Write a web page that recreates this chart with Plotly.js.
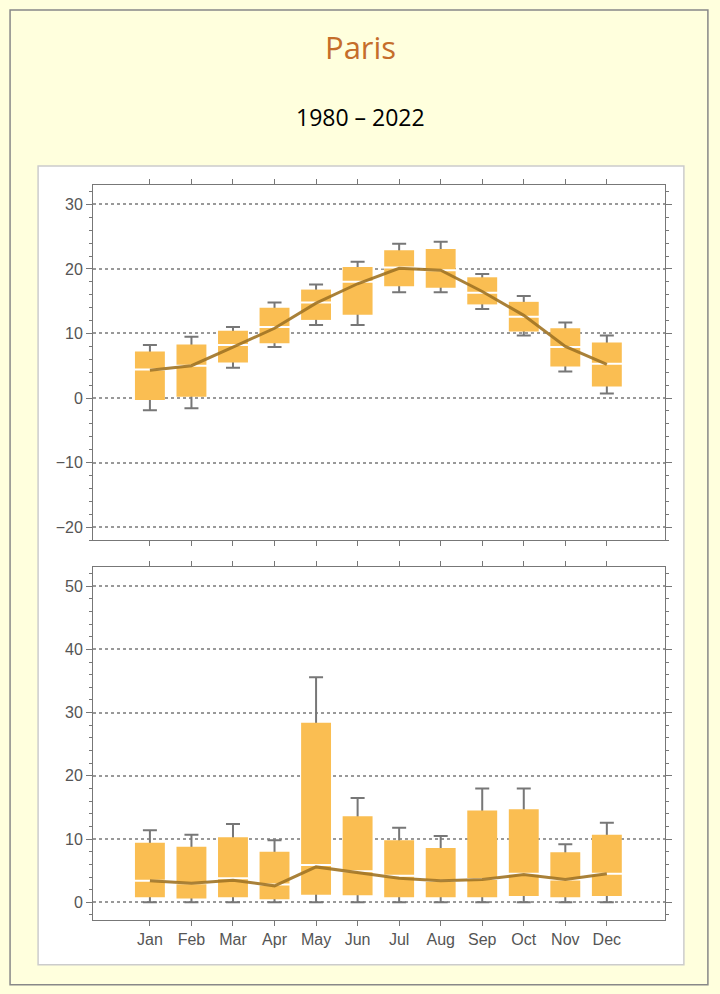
<!DOCTYPE html>
<html>
<head>
<meta charset="utf-8">
<script src="https://cdn.plot.ly/plotly-3.0.1.min.js"></script>
<style>body{margin:0;background:#ffffdd}</style>
</head>
<body>
<div id="chart" style="width:720px;height:994px"></div>
<script>
// months
const months = ['Jan','Feb','Mar','Apr','May','Jun','Jul','Aug','Sep','Oct','Nov','Dec'];

// temperature (°C)
const tempQ1 = [-0.3, 0.2, 5.5, 8.5, 12.1, 12.9, 17.3, 17.1, 14.5, 10.3, 4.9, 1.8];
const tempMed = [4.4, 5.0, 8.2, 11.0, 14.8, 18.0, 20.2, 19.8, 16.3, 12.6, 7.9, 5.3];
const tempQ3 = [7.2, 8.3, 10.4, 14.0, 16.8, 20.3, 22.9, 23.1, 18.7, 14.9, 10.8, 8.6];
const tempLow = [-1.9, -1.6, 4.7, 7.9, 11.3, 11.3, 16.4, 16.4, 13.8, 9.7, 4.1, 0.7];
const tempHigh = [8.2, 9.5, 11.0, 14.8, 17.6, 21.1, 23.9, 24.2, 19.2, 15.8, 11.7, 9.7];
const tempMean = [4.3, 5.0, 7.9, 10.8, 14.7, 17.7, 20.1, 19.8, 16.5, 12.8, 8.0, 5.2];

// precipitation
const precQ1 = [0.8, 0.6, 0.8, 0.5, 1.2, 1.1, 0.8, 0.8, 0.8, 1.0, 0.8, 1.0];
const precMed = [3.4, 3.0, 3.8, 2.8, 5.9, 4.9, 4.2, 3.4, 3.7, 4.5, 3.6, 4.5];
const precQ3 = [9.4, 8.8, 10.3, 8.0, 28.4, 13.6, 9.8, 8.6, 14.5, 14.7, 7.9, 10.7];
const precLow = [0, 0, 0, 0, 0, 0, 0, 0, 0, 0, 0, 0];
const precHigh = [11.4, 10.7, 12.4, 9.8, 35.6, 16.5, 11.8, 10.5, 18.0, 18.0, 9.2, 12.6];
const precMean = [3.4, 3.0, 3.5, 2.6, 5.6, 4.7, 3.8, 3.4, 3.6, 4.4, 3.6, 4.5];

const xs = months.map((m, i) => i);
const orange = '#fabe52', brown = 'rgba(160,115,35,0.9)', gray = '#777';

function panel(q1, med, q3, lo, hi, mean, ya, yb) {
	return [
		{x: xs, y: q1, yaxis: ya, type: 'scatter', mode: 'markers', marker: {size: 1, opacity: 0},
			error_y: {type: 'data', symmetric: false,
				array: hi.map((v, i) => v - q1[i]), arrayminus: lo.map((v, i) => q1[i] - v),
				color: gray, thickness: 2, width: 7}, hoverinfo: 'skip'},
		{x: xs, y: q3.map((v, i) => v - q1[i]), base: q1, yaxis: yb, type: 'bar', width: 0.72,
			marker: {color: orange, line: {width: 0}}},
		{x: xs, y: med, yaxis: yb, type: 'scatter', mode: 'markers',
			marker: {symbol: 'line-ew', size: 27, line: {color: 'white', width: 2}}},
		{x: xs, y: mean, yaxis: yb, type: 'scatter', mode: 'lines', line: {color: brown, width: 3}}
	];
}

const data = [].concat(
	panel(tempQ1, tempMed, tempQ3, tempLow, tempHigh, tempMean, 'y', 'y2'),
	panel(precQ1, precMed, precQ3, precLow, precHigh, precMean, 'y3', 'y4')
);

const tickFont = {family: 'Liberation Sans, Arial', size: 16, color: '#555'};
function yax(domain, range, dtick) {
	return {domain: domain, range: range, dtick: dtick, tickfont: tickFont, showline: true, mirror: 'ticks',
		linecolor: gray, linewidth: 1, ticks: 'outside', ticklen: 6, tickcolor: gray,
		showgrid: true, gridcolor: '#999', griddash: 'dot', gridwidth: 2, zeroline: false,
		minor: {dtick: dtick / 5, ticks: 'outside', ticklen: 3, tickcolor: gray, showgrid: false}};
}
function over(base, range) {
	return {overlaying: base, range: range, visible: false, showgrid: false, zeroline: false};
}
const xbase = {range: [-1.37, 12.4], tickvals: xs, ticktext: months, showline: true, mirror: 'ticks',
	linecolor: gray, ticks: 'outside', ticklen: 5, tickcolor: gray, showgrid: false, zeroline: false, tickfont: tickFont};

const tRange = [-22, 33], pRange = [-2.8, 53];
const layout = {
	width: 720, height: 994, showlegend: false, barmode: 'overlay',
	paper_bgcolor: '#ffffdd', plot_bgcolor: 'white',
	margin: {l: 93, r: 55, t: 185, b: 74},
	xaxis: Object.assign({}, xbase, {anchor: 'y', showticklabels: false}),
	xaxis2: Object.assign({}, xbase, {anchor: 'y3'}),
	yaxis: Object.assign(yax([0.517, 1], tRange, 10), {anchor: 'x'}),
	yaxis2: over('y', tRange),
	yaxis3: Object.assign(yax([0, 0.48], pRange, 10), {anchor: 'x2'}),
	yaxis4: over('y3', pRange),
	shapes: [
		{type: 'rect', xref: 'paper', yref: 'paper', x0: -0.145, x1: 1.075, y0: -0.088, y1: 1.238,
			line: {color: '#888', width: 1.5}, layer: 'below'},
		{type: 'rect', xref: 'paper', yref: 'paper', x0: -0.096, x1: 1.033, y0: -0.061, y1: 1.026,
			fillcolor: 'white', line: {color: '#ccc', width: 1.5}, layer: 'below'}
	],
	annotations: [
		{text: 'Paris', xref: 'paper', yref: 'paper', x: 0.467, y: 1.219, showarrow: false,
			font: {family: 'Open Sans, Lato', size: 31, color: '#c56d2a'}},
		{text: '1980 – 2022', xref: 'paper', yref: 'paper', x: 0.467, y: 1.117, showarrow: false,
			font: {family: 'Open Sans, Lato', size: 23, color: 'black'}}
	]
};
// bars on overlay axes use the matching x axis
data.forEach(t => { if (t.yaxis === 'y3' || t.yaxis === 'y4') t.xaxis = 'x2'; });

Plotly.newPlot('chart', data, layout, {staticPlot: true});
</script>
</body>
</html>
